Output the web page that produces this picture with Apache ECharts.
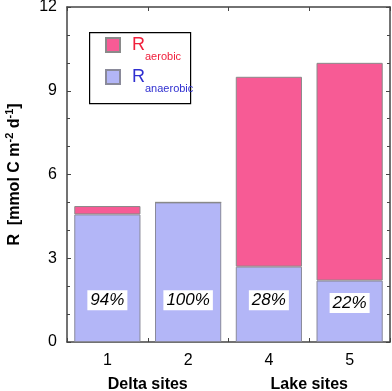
<!DOCTYPE html>
<html>
<head>
<meta charset="utf-8">
<script src="https://cdn.jsdelivr.net/npm/echarts@6/dist/echarts.min.js"></script>
<style>
  html, body { margin: 0; padding: 0; background: #fff; }
  #chart { width: 392px; height: 391px; }
</style>
</head>
<body>
<div id="chart"></div>
<script>
const sites = ['1', '2', '4', '5'];
const groups = ['Delta sites', 'Lake sites'];
const anaerobic = [4.57, 5.0, 2.7, 2.2];
const aerobic = [0.3, 0.0, 6.8, 7.8];
const shares = ['94%', '100%', '28%', '22%'];
const shareY = [1.5, 1.5, 1.5, 1.4];

const pink = '#f75b95';
const lavender = '#b3b6f7';
const axisColor = '#444';
const font = 'Liberation Sans, Arial, sans-serif';

const chartDom = document.getElementById('chart');
const myChart = echarts.init(chartDom);

const valueAxis = (pos, show) => ({
  type: 'value',
  position: pos,
  min: 0,
  max: 12,
  interval: 3,
  axisLine: { show: true, lineStyle: { color: axisColor, width: 1.5 } },
  axisTick: { show: true, inside: true, length: 4, lineStyle: { color: axisColor } },
  minorTick: { show: true, splitNumber: 3, length: 3, lineStyle: { color: axisColor } },
  splitLine: { show: false },
  axisLabel: { show: show, color: '#000', fontSize: 16, fontFamily: font, margin: 10 }
});

let option = {
  animation: false,
  graphic: [{
    type: 'rect',
    left: 89,
    top: 32,
    shape: { width: 101, height: 71 },
    style: { fill: '#fff', stroke: '#000', lineWidth: 1.2 },
    z: 90
  }],
  legend: {
    orient: 'vertical',
    left: 105,
    top: 28,
    padding: 0,
    itemGap: -2,
    itemWidth: 14,
    itemHeight: 14,
    icon: 'rect',
    z: 100,
    data: [
      { name: 'aerobic', textStyle: { color: '#f0203c' } },
      { name: 'anaerobic', textStyle: { color: '#2f2fd0' } }
    ],
    formatter: name => '{r|R}{s|' + name + '}',
    textStyle: {
      fontFamily: font,
      rich: {
        r: { fontSize: 18, lineHeight: 18, fontFamily: font, padding: [8, 0, 8, 7] },
        s: { fontSize: 11, lineHeight: 11, fontFamily: font, padding: [23, 0, 0, 0] }
      }
    }
  },
  grid: { left: 67, right: 2, top: 7, bottom: 49, outerBoundsMode: 'none' },
  xAxis: [
    {
      type: 'category',
      data: sites,
      position: 'bottom',
      axisLine: { show: true, lineStyle: { color: axisColor, width: 1.5 } },
      axisTick: { show: true, inside: true, length: 4, lineStyle: { color: axisColor } },
      axisLabel: { color: '#000', fontSize: 16, fontFamily: font, margin: 11 }
    },
    {
      type: 'category',
      data: groups,
      position: 'bottom',
      offset: 27,
      axisLine: { show: false },
      axisTick: { show: false },
      axisLabel: { color: '#000', fontSize: 16, fontWeight: 'bold', fontFamily: font }
    },
    {
      type: 'category',
      data: sites,
      position: 'top',
      axisLine: { show: true, lineStyle: { color: axisColor, width: 1.5 } },
      axisTick: { show: true, inside: true, length: 4, lineStyle: { color: axisColor } },
      axisLabel: { show: false }
    }
  ],
  yAxis: [
    Object.assign(valueAxis('left', true), {
      name: '{b|R  [mmol C m}{sup|-2}{b| d}{sup|-1}{b|]}',
      nameLocation: 'middle',
      nameRotate: 90,
      nameGap: 41,
      nameTextStyle: {
        rich: {
          b: { fontSize: 16, fontWeight: 'bold', fontFamily: font, color: '#000', height: 22, verticalAlign: 'bottom' },
          sup: { fontSize: 11, fontWeight: 'bold', fontFamily: font, color: '#000', verticalAlign: 'top', padding: [0, 0, 8, 0] }
        }
      }
    }),
    valueAxis('right', false)
  ],
  series: [
    {
      name: 'anaerobic',
      type: 'bar',
      stack: 'R',
      data: anaerobic,
      barWidth: '82%',
      itemStyle: { color: lavender, borderColor: '#8a8a9a', borderWidth: 1 }
    },
    {
      name: 'aerobic',
      type: 'bar',
      stack: 'R',
      data: aerobic,
      barWidth: '82%',
      itemStyle: { color: pink, borderColor: '#8a8a8a', borderWidth: 1 }
    },
    {
      name: 'share',
      type: 'scatter',
      symbolSize: 0,
      silent: true,
      itemStyle: { opacity: 1 },
      data: shares.map((s, i) => [sites[i], shareY[i]]),
      label: {
        show: true,
        position: 'inside',
        formatter: p => shares[p.dataIndex],
        fontSize: 17,
        fontStyle: 'italic',
        fontFamily: font,
        color: '#000',
        opacity: 1,
        backgroundColor: '#ffffff',
        padding: [2, 3, 1, 3]
      },
      z: 5
    }
  ]
};

myChart.setOption(option);
</script>
</body>
</html>
